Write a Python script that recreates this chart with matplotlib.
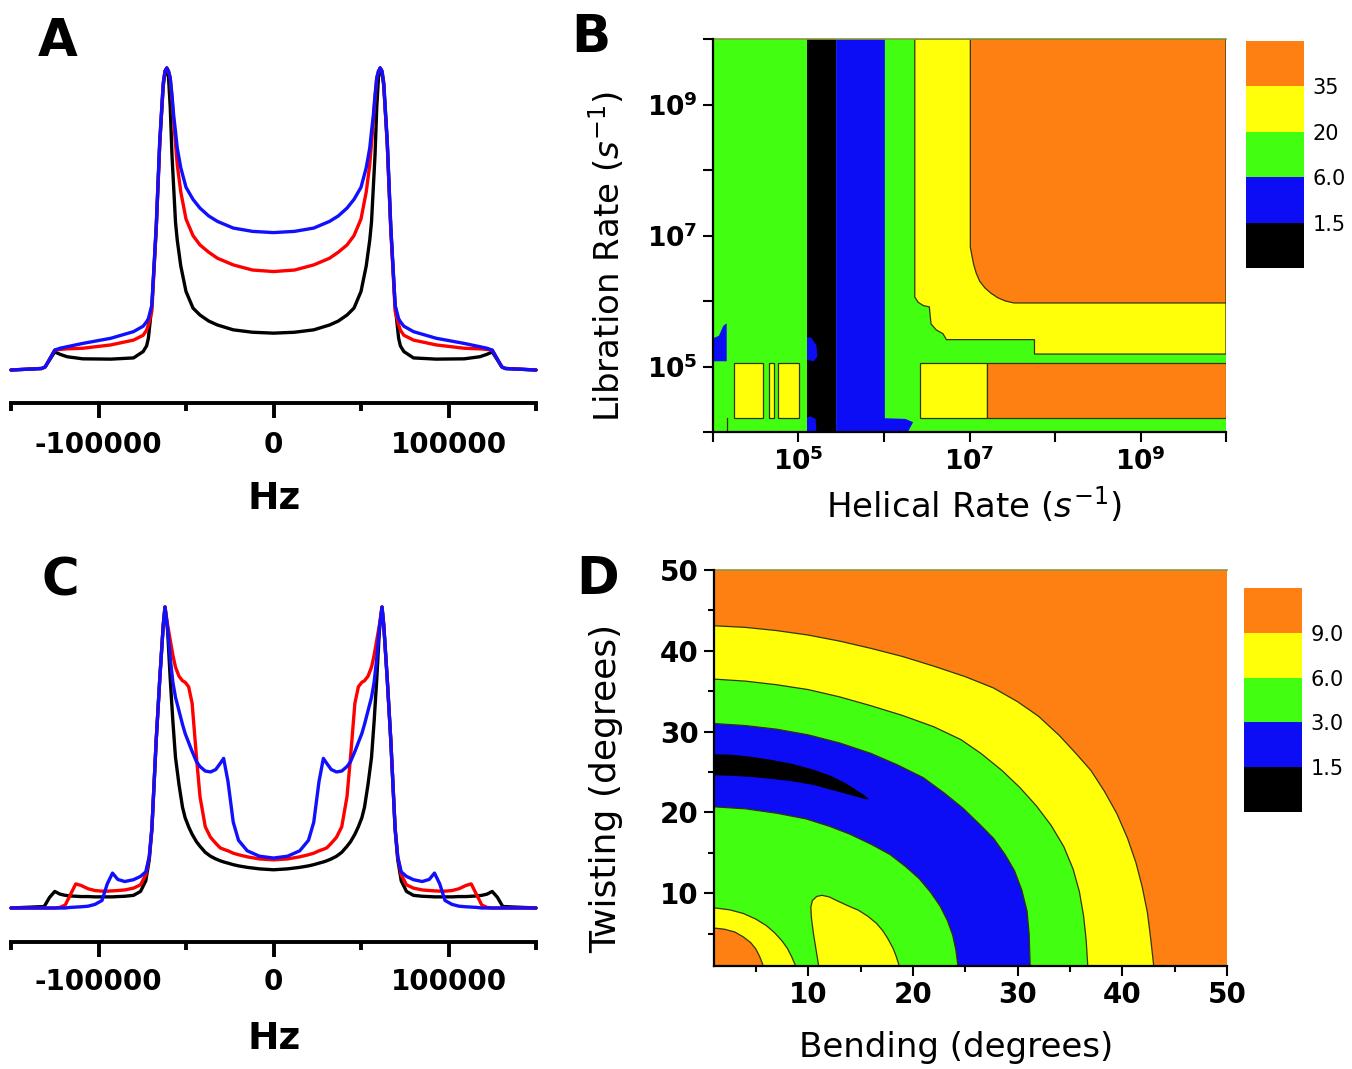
import matplotlib
matplotlib.use('Agg')
import matplotlib.pyplot as plt
import numpy as np
from matplotlib.ticker import NullLocator

# ---------------- data: spectra (Hz in kHz, normalised intensity) ----------------
a_khz = [-150, -132.5, -130.5, -125, -122, -118, -109, -93, -80, -74.5, -72.5, -71.5, -69.5, -67, -65, -63, -62, -61,
         -60, -59, -58, -57, -56, -55, -53, -50, -46, -42, -37, -32, -23, -12, 0,
         12, 23, 32, 37, 42, 46, 50, 53, 55, 56, 57, 58, 59, 60, 61, 62, 63, 65, 67, 69.5, 71.5, 72.5, 74.5, 80, 93,
         109, 118, 122, 125, 130.5, 132.5, 150]
a_black = [0.0, 0.005, 0.01, 0.06, 0.052, 0.044, 0.037, 0.036, 0.04, 0.061, 0.08, 0.105, 0.215, 0.47, 0.75, 0.94,
           0.985, 1.0, 0.97, 0.87, 0.71, 0.6, 0.49, 0.43, 0.345, 0.26, 0.205, 0.182, 0.162, 0.149, 0.133, 0.125, 0.122,
           0.125, 0.133, 0.149, 0.162, 0.182, 0.205, 0.26, 0.345, 0.43, 0.49, 0.6, 0.71, 0.87, 0.97, 1.0, 0.985, 0.94,
           0.75, 0.47, 0.215, 0.105, 0.08, 0.061, 0.04, 0.036, 0.037, 0.044, 0.052, 0.06, 0.01, 0.005, 0.0]
a_red = [0.0, 0.005, 0.01, 0.066, 0.068, 0.07, 0.072, 0.083, 0.099, 0.115, 0.132, 0.15, 0.195, 0.47, 0.75, 0.95,
         0.99, 1.0, 0.99, 0.967, 0.9, 0.823, 0.75, 0.68, 0.59, 0.5, 0.445, 0.414, 0.39, 0.37, 0.348, 0.331, 0.326,
         0.331, 0.348, 0.37, 0.39, 0.414, 0.445, 0.5, 0.59, 0.68, 0.75, 0.823, 0.9, 0.967, 0.99, 1.0, 0.99, 0.95,
         0.75, 0.47, 0.195, 0.15, 0.132, 0.115, 0.099, 0.083, 0.072, 0.07, 0.068, 0.066, 0.01, 0.005, 0.0]
a_blue = [0.0, 0.005, 0.01, 0.066, 0.072, 0.077, 0.088, 0.105, 0.127, 0.145, 0.16, 0.17, 0.215, 0.48, 0.76, 0.95,
          0.99, 1.0, 0.99, 0.967, 0.91, 0.84, 0.79, 0.735, 0.67, 0.605, 0.565, 0.536, 0.51, 0.492, 0.47, 0.459, 0.455,
          0.459, 0.47, 0.492, 0.51, 0.536, 0.565, 0.605, 0.67, 0.735, 0.79, 0.84, 0.91, 0.967, 0.99, 1.0, 0.99, 0.95,
          0.76, 0.48, 0.215, 0.17, 0.16, 0.145, 0.127, 0.105, 0.088, 0.077, 0.072, 0.066, 0.01, 0.005, 0.0]

c_khz = [-150, -131, -128, -125, -122, -119, -116, -113, -110, -106, -102, -98, -95, -92, -89, -85, -80, -76, -73, -71,
         -69.5, -67, -65, -63, -62, -60.5, -59, -57.5, -56, -54, -52, -50.5, -48.5, -46.5, -44, -42, -39, -36, -33,
         -30.5, -28.5, -26, -23, -20, -15, -8, 0,
         8, 15, 20, 23, 26, 28.5, 30.5, 33, 36, 39, 42, 44, 46.5, 48.5, 50.5, 52, 54, 56, 57.5, 59, 60.5, 62, 63, 65,
         67, 69.5, 71, 73, 76, 80, 85, 89, 92, 95, 98, 102, 106, 110, 113, 116, 119, 122, 125, 128, 131, 150]
c_black = [0.0, 0.005, 0.035, 0.055, 0.046, 0.042, 0.04, 0.039, 0.038, 0.038, 0.037, 0.037, 0.037, 0.037, 0.038, 0.039,
           0.042, 0.055, 0.09, 0.16, 0.26, 0.56, 0.76, 0.94, 1.0, 0.92, 0.76, 0.62, 0.5, 0.41, 0.335, 0.3, 0.27, 0.245,
           0.22, 0.205, 0.185, 0.172, 0.163, 0.157, 0.153, 0.149, 0.144, 0.14, 0.135, 0.13, 0.127,
           0.13, 0.135, 0.14, 0.144, 0.149, 0.153, 0.157, 0.163, 0.172, 0.185, 0.205, 0.22, 0.245, 0.27, 0.3, 0.335,
           0.41, 0.5, 0.62, 0.76, 0.92, 1.0, 0.94, 0.76, 0.56, 0.26, 0.16, 0.09, 0.055, 0.042, 0.039, 0.038, 0.037,
           0.037, 0.037, 0.037, 0.038, 0.038, 0.039, 0.04, 0.042, 0.046, 0.055, 0.035, 0.005, 0.0]
c_red = [0.0, 0.0, 0.0, 0.0, 0.002, 0.01, 0.045, 0.08, 0.075, 0.064, 0.058, 0.056, 0.056, 0.057, 0.058, 0.06, 0.066,
         0.077, 0.11, 0.17, 0.265, 0.56, 0.76, 0.94, 1.0, 0.94, 0.89, 0.84, 0.8, 0.77, 0.755, 0.75, 0.735, 0.68, 0.5,
         0.37, 0.27, 0.235, 0.215, 0.2, 0.195, 0.19, 0.182, 0.177, 0.17, 0.163, 0.16,
         0.163, 0.17, 0.177, 0.182, 0.19, 0.195, 0.2, 0.215, 0.235, 0.27, 0.37, 0.5, 0.68, 0.735, 0.75, 0.755, 0.77,
         0.8, 0.84, 0.89, 0.94, 1.0, 0.94, 0.76, 0.56, 0.265, 0.17, 0.11, 0.077, 0.066, 0.06, 0.058, 0.057, 0.056,
         0.056, 0.058, 0.064, 0.075, 0.08, 0.045, 0.01, 0.002, 0.0, 0.0, 0.0, 0.0]
c_blue = [0.0, 0.0, 0.0, 0.0, 0.0, 0.0, 0.002, 0.003, 0.004, 0.006, 0.012, 0.025, 0.08, 0.116, 0.095, 0.088, 0.094,
          0.105, 0.12, 0.17, 0.265, 0.56, 0.76, 0.94, 1.0, 0.93, 0.83, 0.75, 0.7, 0.655, 0.61, 0.58, 0.55, 0.52,
          0.486, 0.47, 0.455, 0.452, 0.46, 0.48, 0.497, 0.42, 0.285, 0.225, 0.19, 0.172, 0.166,
          0.172, 0.19, 0.225, 0.285, 0.42, 0.497, 0.48, 0.46, 0.452, 0.455, 0.47, 0.486, 0.52, 0.55, 0.58, 0.61,
          0.655, 0.7, 0.75, 0.83, 0.93, 1.0, 0.94, 0.76, 0.56, 0.265, 0.17, 0.12, 0.105, 0.094, 0.088, 0.095, 0.116,
          0.08, 0.025, 0.012, 0.006, 0.004, 0.003, 0.002, 0.0, 0.0, 0.0, 0.0, 0.0, 0.0]

spec_ticks = [-100000, 0, 100000]
spec_ticklabels = ['-100000', '0', '100000']
spec_minor = [-150000, -50000, 50000, 150000]

# ---------------- data: panel B regions (log10 of rates) ----------------
B_black_x = [5.10, 5.44, 5.44, 5.10]
B_black_y = [10, 10, 4, 4]
B_blue_x = [5.44, 6.01, 6.01, 6.25, 6.34, 6.28, 5.44]
B_blue_y = [10, 10, 4.21, 4.20, 4.15, 4.0, 4.0]
B_bluebit1_x = [5.10, 5.15, 5.21, 5.22, 5.18, 5.10]
B_bluebit1_y = [5.45, 5.44, 5.32, 5.15, 5.08, 5.10]
B_bluebit2_x = [5.10, 5.21, 5.20, 5.14, 5.10]
B_bluebit2_y = [4.0, 4.0, 4.2, 4.24, 4.22]
B_blueleft_x = [4.0, 4.0, 4.07, 4.12, 4.16, 4.16]
B_blueleft_y = [5.08, 5.43, 5.47, 5.62, 5.66, 5.08]
B_yel_up_x = [6.36, 10, 10, 7.76, 7.76, 6.73, 6.69, 6.61, 6.55, 6.53, 6.46, 6.40, 6.36]
B_yel_up_y = [10, 10, 5.19, 5.19, 5.41, 5.41, 5.50, 5.56, 5.65, 5.91, 5.93, 5.98, 6.06]
B_org_up_x = [7.01, 10, 10, 7.52, 7.42, 7.33, 7.25, 7.18, 7.12, 7.08, 7.05, 7.03, 7.01]
B_org_up_y = [10, 10, 5.97, 5.97, 6.00, 6.05, 6.12, 6.20, 6.30, 6.42, 6.55, 6.68, 6.82]
B_row_y = [4.22, 5.06]
B_yel_low_x = [[4.24, 4.59], [4.65, 4.71], [4.76, 5.01], [6.42, 7.20]]
B_org_low_x = [7.20, 10.0]
B_line_x = [4.16, 4.16]
B_line_y = [4.0, 4.22]
B_decades = [4, 5, 6, 7, 8, 9, 10]
B_labeled = [5, 7, 9]
B_cbar_labels = ['1.5', '6.0', '20', '35']

# ---------------- data: panel D contour boundaries (degrees) ----------------
D_B1_x = [1, 4, 7, 10, 13, 16, 19, 22, 25, 27.7, 30, 32, 34, 35.5, 37, 38.3, 39.5, 40.5, 41.3, 41.9, 42.4, 42.7,
          42.9, 43.0]
D_B1_y = [43.1, 42.9, 42.5, 41.95, 41.2, 40.3, 39.3, 38.1, 36.8, 35.4, 33.7, 31.9, 29.5, 27.4, 25.2, 22.6, 19.8,
          16.8, 13.8, 10.8, 7.6, 4.5, 2.2, 1]
D_B2_x = [1, 4, 7, 10, 13, 16, 19, 22, 24.6, 26.5, 28.5, 30.2, 31.8, 33.2, 34.4, 35.3, 35.9, 36.3, 36.55, 36.7]
D_B2_y = [36.5, 36.25, 35.8, 35.2, 34.3, 33.2, 32.0, 30.6, 29.0, 27.3, 25.2, 23.1, 20.8, 18.4, 15.8, 13.0, 10.2,
          7.2, 4.2, 1]
D_B3_x = [1, 4, 7, 10, 13, 16, 18.5, 21, 23, 24.8, 26.4, 27.7, 28.8, 29.7, 30.4, 30.9, 31.1, 31.2]
D_B3_y = [31.0, 30.75, 30.3, 29.6, 28.6, 27.3, 25.9, 24.3, 22.4, 20.5, 18.5, 16.8, 14.8, 12.8, 10.4, 7.8, 5.0, 1]
D_B4_x = [1, 4, 7, 9.8, 12, 14, 16.1, 17.8, 19.3, 20.6, 21.7, 22.6, 23.3, 23.8, 24.1, 24.3]
D_B4_y = [20.7, 20.45, 19.9, 19.2, 18.3, 17.3, 16.0, 14.8, 13.3, 11.8, 10.1, 8.4, 6.6, 4.8, 3.0, 1]
D_cres_x = [1, 2.5, 4.5, 6.5, 8.5, 10.5, 12.2, 13.6, 14.8, 15.5, 15.8, 15.3, 14.2, 12.5, 10.5, 8.5, 6.5, 4.5, 2.5, 1]
D_cres_y = [27.2, 27.15, 26.9, 26.5, 26.0, 25.3, 24.5, 23.6, 22.6, 22.0, 21.6, 21.7, 22.1, 22.7, 23.4, 23.85, 24.15,
            24.4, 24.55, 24.6]
D_bump_x = [11.0, 10.75, 10.5, 10.3, 10.25, 10.4, 10.8, 11.3, 12.0, 12.8, 13.8, 14.8, 15.7, 16.5, 17.1, 17.6, 18.1,
            18.4, 18.7]
D_bump_y = [1, 3.0, 5.0, 7.0, 8.3, 9.1, 9.6, 9.75, 9.55, 9.05, 8.45, 7.9, 7.15, 6.3, 5.4, 4.4, 3.2, 2.2, 1]
D_B5_x = [1, 2.5, 3.8, 5.0, 6.0, 6.8, 7.5, 8.0, 8.4, 8.7, 8.8]
D_B5_y = [8.2, 7.95, 7.5, 6.8, 6.0, 5.1, 4.1, 3.2, 2.2, 1.3, 1]
D_B6_x = [1, 2.0, 3.0, 3.8, 4.5, 5.0, 5.35, 5.6, 5.7]
D_B6_y = [5.7, 5.55, 5.2, 4.6, 3.9, 3.1, 2.2, 1.4, 1]
D_ticks = [10, 20, 30, 40, 50]
D_minor = [5, 15, 25, 35, 45]
D_cbar_labels = ['1.5', '3.0', '6.0', '9.0']

# ---------------- style ----------------
ORANGE = '#ff8012'
YELLOW = '#ffff0a'
GREEN = '#42ff12'
BLUE = '#0c0cf5'
BLACK = '#000000'
EDGE = '#35350a'
LEVEL_COLORS = [BLACK, BLUE, GREEN, YELLOW, ORANGE]

W, H = 1352, 1069
fig = plt.figure(figsize=(W / 100, H / 100), dpi=100)


def ax_at(x0, y0, x1, y1):
    return fig.add_axes([x0 / W, 1 - y1 / H, (x1 - x0) / W, (y1 - y0) / H])


def fxy(px, py):
    return px / W, 1 - py / H


def spectrum_panel(box, base_px, peak_px, khz, series, pad):
    x0, y0, x1, y1 = box
    ax = ax_at(x0, y0, x1, y1)
    span = base_px - peak_px
    ax.set_ylim(-(y1 - base_px) / span, 1 + (peak_px - y0) / span)
    ax.set_xlim(-150000, 150000)
    hz = np.array(khz) * 1000.0
    for vals, col in series:
        ax.plot(hz, vals, color=col, lw=2.4, solid_joinstyle='round', solid_capstyle='round', clip_on=False)
    for s in ['left', 'right', 'top']:
        ax.spines[s].set_visible(False)
    ax.spines['bottom'].set_linewidth(2.8)
    ax.set_yticks([])
    ax.set_xticks(spec_ticks)
    ax.set_xticklabels(spec_ticklabels, fontsize=20, fontweight='bold')
    ax.set_xticks(spec_minor, minor=True)
    ax.tick_params(axis='x', which='major', length=11, width=2.8, direction='out', pad=pad)
    ax.tick_params(axis='x', which='minor', length=6, width=2.8, direction='out')
    ax.patch.set_alpha(0)
    return ax


axA = spectrum_panel((11, 50, 536, 403), 370, 68, a_khz,
                     [(a_black, BLACK), (a_red, '#ff0000'), (a_blue, '#1010ff')], 9.5)
axA.set_xlabel('Hz', fontsize=27, fontweight='bold')
axA.xaxis.set_label_coords(*fxy(274, 499), transform=fig.transFigure)
axA.xaxis.label.set_va('center')

axC = spectrum_panel((11, 585, 536, 942), 908, 607, c_khz,
                     [(c_black, BLACK), (c_red, '#ff0000'), (c_blue, '#1010ff')], 7.5)
axC.set_xlabel('Hz', fontsize=27, fontweight='bold')
axC.xaxis.set_label_coords(*fxy(274, 1039), transform=fig.transFigure)
axC.xaxis.label.set_va('center')


def P(v):
    return 10 ** np.array(v, dtype=float)


# ---------------- panel B ----------------
axB = ax_at(713, 39, 1226, 432)
axB.set_xscale('log')
axB.set_yscale('log')
axB.set_xlim(1e4, 1e10)
axB.set_ylim(1e4, 1e10)
axB.fill(P([4, 10, 10, 4]), P([4, 4, 10, 10]), facecolor=GREEN, edgecolor='none')
axB.fill(P(B_black_x), P(B_black_y), facecolor=BLACK, edgecolor='none')
axB.fill(P(B_blue_x), P(B_blue_y), facecolor=BLUE, edgecolor='none')
for bx, by in [(B_bluebit1_x, B_bluebit1_y), (B_bluebit2_x, B_bluebit2_y), (B_blueleft_x, B_blueleft_y)]:
    axB.fill(P(bx), P(by), facecolor=BLUE, edgecolor='none')
axB.fill(P(B_yel_up_x), P(B_yel_up_y), facecolor=YELLOW, edgecolor=EDGE, lw=0.9)
axB.fill(P(B_org_up_x), P(B_org_up_y), facecolor=ORANGE, edgecolor=EDGE, lw=0.9)
for xa, xb in B_yel_low_x:
    axB.fill(P([xa, xb, xb, xa]), P([B_row_y[0], B_row_y[0], B_row_y[1], B_row_y[1]]),
             facecolor=YELLOW, edgecolor=EDGE, lw=0.9)
axB.fill(P([B_org_low_x[0], B_org_low_x[1], B_org_low_x[1], B_org_low_x[0]]),
         P([B_row_y[0], B_row_y[0], B_row_y[1], B_row_y[1]]), facecolor=ORANGE, edgecolor=EDGE, lw=0.9)
axB.plot(P(B_line_x), P(B_line_y), color=EDGE, lw=0.9)
axB.plot(P([4, 10]), P([10, 10]), color='#8a9a3a', lw=1.2, clip_on=False)

tick_vals = P(B_decades)
tick_labs = [r'$\mathbf{10^{%d}}$' % d if d in B_labeled else '' for d in B_decades]
axB.set_xticks(tick_vals)
axB.set_xticklabels(tick_labs)
axB.set_yticks(tick_vals)
axB.set_yticklabels(tick_labs)
axB.xaxis.set_minor_locator(NullLocator())
axB.yaxis.set_minor_locator(NullLocator())
axB.tick_params(axis='both', which='major', length=7, width=1.5, direction='out', labelsize=19, pad=4)
for s in ['top', 'right']:
    axB.spines[s].set_visible(False)
for s in ['left', 'bottom']:
    axB.spines[s].set_linewidth(1.6)
axB.set_xlabel('Helical Rate ($s^{-1}$)', fontsize=24.5)
axB.xaxis.set_label_coords(*fxy(974, 505), transform=fig.transFigure)
axB.xaxis.label.set_va('center')
axB.set_ylabel('Libration Rate ($s^{-1}$)', fontsize=24.5)
axB.yaxis.set_label_coords(*fxy(607, 256), transform=fig.transFigure)
axB.yaxis.label.set_va('center')

# ---------------- panel D ----------------
axD = ax_at(714, 570, 1227, 966)
axD.set_xlim(1, 50)
axD.set_ylim(1, 50)
axD.fill([1, 50, 50, 1], [1, 1, 50, 50], facecolor=ORANGE, edgecolor='none')


def region(bx, by, color):
    axD.fill(list(bx) + [1], list(by) + [1], facecolor=color, edgecolor='none')


region(D_B1_x, D_B1_y, YELLOW)
region(D_B2_x, D_B2_y, GREEN)
region(D_B3_x, D_B3_y, BLUE)
region(D_B4_x, D_B4_y, GREEN)
axD.fill(D_cres_x, D_cres_y, facecolor=BLACK, edgecolor='none')
axD.fill(D_bump_x, D_bump_y, facecolor=YELLOW, edgecolor='none')
region(D_B5_x, D_B5_y, YELLOW)
region(D_B6_x, D_B6_y, ORANGE)
for bx, by in [(D_B1_x, D_B1_y), (D_B2_x, D_B2_y), (D_B3_x, D_B3_y), (D_B4_x, D_B4_y),
               (D_bump_x, D_bump_y), (D_B5_x, D_B5_y), (D_B6_x, D_B6_y)]:
    axD.plot(bx, by, color=EDGE, lw=0.9, solid_joinstyle='round')
axD.plot([1, 50], [50, 50], color='#8a9a3a', lw=1.2, clip_on=False)

axD.set_xticks(D_ticks)
axD.set_yticks(D_ticks)
axD.set_xticklabels([str(t) for t in D_ticks], fontsize=20, fontweight='bold')
axD.set_yticklabels([str(t) for t in D_ticks], fontsize=20, fontweight='bold')
axD.set_xticks(D_minor, minor=True)
axD.set_yticks(D_minor, minor=True)
axD.tick_params(axis='both', which='major', length=7, width=1.5, direction='out', pad=4)
axD.tick_params(axis='both', which='minor', length=4, width=1.5, direction='out')
for s in ['top', 'right']:
    axD.spines[s].set_visible(False)
for s in ['left', 'bottom']:
    axD.spines[s].set_linewidth(1.6)
axD.set_xlabel('Bending (degrees)', fontsize=24.5)
axD.xaxis.set_label_coords(*fxy(956, 1047), transform=fig.transFigure)
axD.xaxis.label.set_va('center')
axD.set_ylabel('Twisting (degrees)', fontsize=26)
axD.yaxis.set_label_coords(*fxy(606, 788), transform=fig.transFigure)
axD.yaxis.label.set_va('center')


# ---------------- colour keys ----------------
def color_key(box, labels):
    ax = ax_at(*box)
    for i, c in enumerate(LEVEL_COLORS):
        ax.bar(0, 1, bottom=i, width=1, color=c, edgecolor='none')
    ax.set_xlim(-0.5, 0.5)
    ax.set_ylim(0, len(LEVEL_COLORS))
    ax.set_xticks([])
    ax.set_yticks(range(1, len(LEVEL_COLORS)))
    ax.set_yticklabels(labels, fontsize=15)
    ax.yaxis.tick_right()
    ax.tick_params(axis='y', length=0, pad=6)
    for s in ax.spines.values():
        s.set_visible(False)
    return ax


color_key((1246, 41, 1304, 268), B_cbar_labels)
color_key((1244, 588, 1302, 812), D_cbar_labels)

# ---------------- panel letters ----------------
for letter, (px, py) in zip(['A', 'B', 'C', 'D'], [(58, 42), (591, 38), (60, 582), (598, 580)]):
    fig.text(*fxy(px, py), letter, fontsize=37, fontweight='heavy', ha='center', va='center')

fig.savefig('out.png', dpi=100)
